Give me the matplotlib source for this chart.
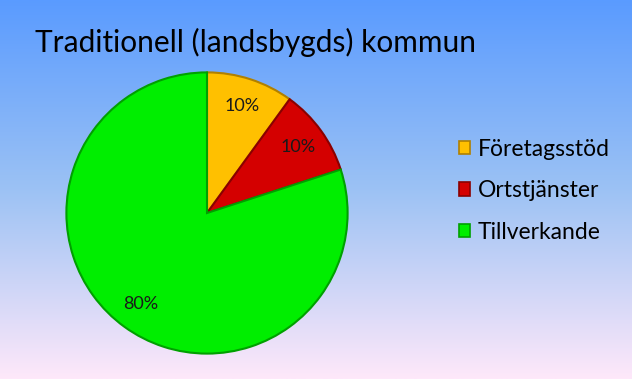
import numpy as np
import matplotlib.pyplot as plt
from matplotlib.patches import Patch
from matplotlib.colors import LinearSegmentedColormap

plt.rcParams['font.family'] = ['Lato', 'DejaVu Sans']

labels = ['Företagsstöd', 'Ortstjänster', 'Tillverkande']
values = [10, 10, 80]
colors = ['#FFC000', '#D40000', '#00EE00']
edges = ['#B08000', '#8A0000', '#00A000']
title = 'Traditionell (landsbygds) kommun'

fig = plt.figure(figsize=(6.32, 3.79), dpi=100)

# background gradient, blue at top to pale pink at bottom
bg = fig.add_axes([0, 0, 1, 1], zorder=0)
cmap = LinearSegmentedColormap.from_list(
    'bg', [(0.0, '#5A9BFF'), (0.5, '#9CC2F4'), (1.0, '#FEE8FA')])
bg.imshow(np.linspace(0, 1, 256).reshape(-1, 1), aspect='auto',
          cmap=cmap, extent=[0, 1, 0, 1])
bg.axis('off')

ax = fig.add_axes([65/632, 24/379, 284/632, 284/379], zorder=1)
wedges, texts, autotexts = ax.pie(
    values, colors=colors, startangle=90, counterclock=False,
    autopct='%1.0f%%', pctdistance=0.8,
    wedgeprops=dict(linewidth=1.5),
    textprops=dict(fontsize=13, color='#1a1a1a'))
for w, ec in zip(wedges, edges):
    w.set_edgecolor(ec)
ax.set_xlim(-1.01, 1.01)
ax.set_ylim(-1.01, 1.01)
ax.set_aspect('equal')

fig.text(0.405, 0.888, title, ha='center', va='center', fontsize=21.5,
         color='black')

handles = [Patch(facecolor=c, edgecolor=e, linewidth=1.2)
           for c, e in zip(colors, edges)]
leg = fig.legend(handles, labels, loc='center left',
                 bbox_to_anchor=(0.693, 0.497), frameon=False,
                 fontsize=16.5, handlelength=0.5, handleheight=0.5,
                 handletextpad=0.35, labelspacing=0.9)

fig.savefig('out.png', dpi=100)
